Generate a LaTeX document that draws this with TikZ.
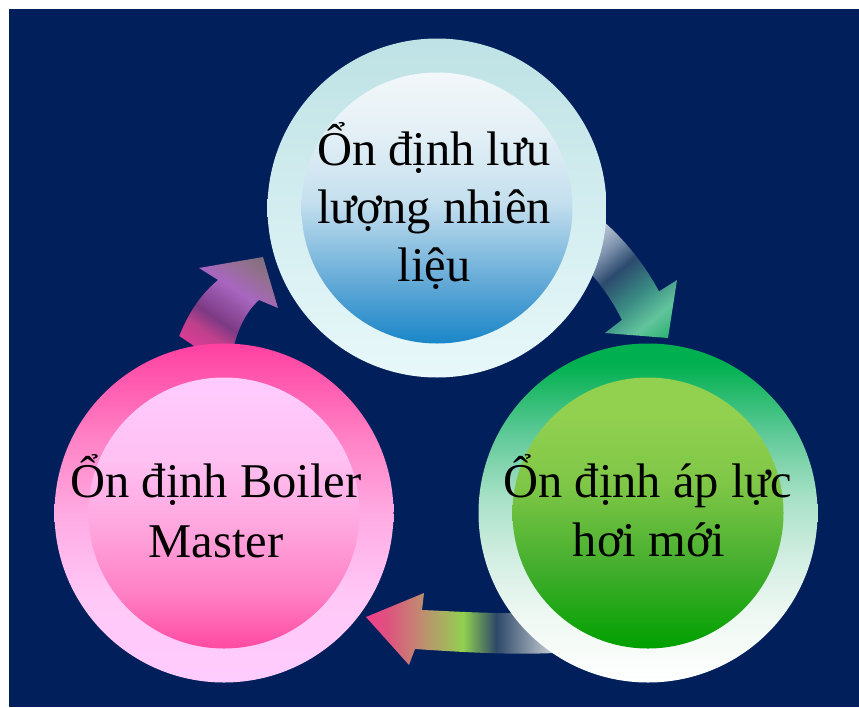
\documentclass[tikz,border=0pt]{standalone}
\usepackage{fontspec}
\setmainfont{Liberation Serif}
\definecolor{bgnavy}{HTML}{011F5B}
% top circle
\definecolor{toA}{HTML}{BEE2E5}
\definecolor{toB}{HTML}{E8F8FA}
\definecolor{tiA}{HTML}{1A86C8}
\definecolor{tiB}{HTML}{5AA5D5}
\definecolor{tiC}{HTML}{C4DFEE}
\definecolor{tiD}{HTML}{E4F0F6}
\definecolor{tiE}{HTML}{F2F7FA}
% right circle
\definecolor{ro1}{HTML}{FFFFFF}
\definecolor{ro2}{HTML}{EEF8F2}
\definecolor{ro3}{HTML}{D2EEE2}
\definecolor{ro4}{HTML}{A6E0C6}
\definecolor{ro5}{HTML}{60CA98}
\definecolor{ro6}{HTML}{00B050}
\definecolor{ri1}{HTML}{00A000}
\definecolor{ri2}{HTML}{44AE2E}
\definecolor{ri3}{HTML}{7EC646}
\definecolor{ri4}{HTML}{92D050}
% left circle
\definecolor{lo1}{HTML}{FFCCFF}
\definecolor{lo2}{HTML}{FFC8F6}
\definecolor{lo3}{HTML}{FFAAE2}
\definecolor{lo4}{HTML}{FF86C8}
\definecolor{lo5}{HTML}{FF40A0}
\definecolor{li1}{HTML}{FF4AA2}
\definecolor{li2}{HTML}{FF80C4}
\definecolor{li3}{HTML}{FFA6DE}
\definecolor{li4}{HTML}{FFC0F2}
\definecolor{li5}{HTML}{FFCCFF}
% arrow colours
\definecolor{aa1}{HTML}{DCE4EC}
\definecolor{aa2}{HTML}{C4CEDA}
\definecolor{aa3}{HTML}{7F93AE}
\definecolor{aa4}{HTML}{2C4A6E}
\definecolor{aa5}{HTML}{3A8C84}
\definecolor{aa6}{HTML}{62C49C}
\definecolor{aa7}{HTML}{46BA86}
\definecolor{aa8}{HTML}{20B070}
\definecolor{bb1}{HTML}{D83C94}
\definecolor{bb2}{HTML}{C0408C}
\definecolor{bb3}{HTML}{7C3A84}
\definecolor{bb4}{HTML}{A866C0}
\definecolor{bb5}{HTML}{947090}
\definecolor{bb6}{HTML}{7A6E78}
\definecolor{cc1}{HTML}{F0408C}
\definecolor{cc2}{HTML}{E0507F}
\definecolor{cc3}{HTML}{C08C70}
\definecolor{cc4}{HTML}{92D050}
\definecolor{cc5}{HTML}{2E4868}
\definecolor{cc6}{HTML}{B4BEC8}
\definecolor{cc7}{HTML}{CCD4DC}
\pgfdeclareverticalshading{topinner}{100bp}{color(0bp)=(tiA); color(25bp)=(tiA); color(35bp)=(tiB); color(51bp)=(tiC); color(64bp)=(tiD); color(75bp)=(tiE); color(100bp)=(tiE)}
\pgfdeclareverticalshading{rightouter}{100bp}{color(0bp)=(ro1); color(25bp)=(ro1); color(35bp)=(ro2); color(43.5bp)=(ro3); color(52.5bp)=(ro4); color(61.5bp)=(ro5); color(72bp)=(ro6); color(100bp)=(ro6)}
\pgfdeclareverticalshading{rightinner}{100bp}{color(0bp)=(ri1); color(25bp)=(ri1); color(40bp)=(ri2); color(55bp)=(ri3); color(68bp)=(ri4); color(100bp)=(ri4)}
\pgfdeclareverticalshading{leftouter}{100bp}{color(0bp)=(lo1); color(25bp)=(lo1); color(37.5bp)=(lo2); color(50bp)=(lo3); color(60bp)=(lo4); color(75bp)=(lo5); color(100bp)=(lo5)}
\pgfdeclareverticalshading{leftinner}{100bp}{color(0bp)=(li1); color(25bp)=(li1); color(35bp)=(li2); color(47.5bp)=(li3); color(60bp)=(li4); color(75bp)=(li5); color(100bp)=(li5)}
\pgfdeclarehorizontalshading{arrowTR}{100bp}{color(0bp)=(aa1); color(25bp)=(aa1); color(30bp)=(aa2); color(38.3bp)=(aa3); color(46bp)=(aa4); color(56.7bp)=(aa5); color(65.7bp)=(aa6); color(70bp)=(aa7); color(75bp)=(aa8); color(100bp)=(aa8)}
\pgfdeclarehorizontalshading{arrowL}{100bp}{color(0bp)=(bb1); color(25bp)=(bb1); color(32.8bp)=(bb2); color(40.2bp)=(bb3); color(55.4bp)=(bb4); color(66.3bp)=(bb5); color(75bp)=(bb6); color(100bp)=(bb6)}
\pgfdeclarehorizontalshading{arrowB}{100bp}{color(0bp)=(cc1); color(25bp)=(cc1); color(29.9bp)=(cc2); color(38.5bp)=(cc3); color(48.8bp)=(cc4); color(56.9bp)=(cc5); color(69.1bp)=(cc6); color(75bp)=(cc7); color(100bp)=(cc7)}
\tikzset{
  ring/.style={circle, inner sep=0pt, minimum size=339pt, shade},
  disc/.style={circle, inner sep=0pt, minimum size=271pt, shade},
  label/.style={anchor=base, inner sep=0pt, font=\fontsize{48.5pt}{58pt}\selectfont, text=black}
}
\begin{document}
\begin{tikzpicture}[x=1pt,y=-1pt]
\useasboundingbox (0,0) rectangle (859,707);
\fill[bgnavy] (9,9) rectangle (859,707);

% arrow top circle -> right circle
\begin{scope}
\clip (591.8,211.6) .. controls (619.5,233.3) and (642.4,260.4) .. (659,291.4)
  -- (677,280) -- (668,338) -- (605,333) -- (621.9,319.9)
  .. controls (611.9,299.4) and (598.5,280.7) .. (582.4,264.6) -- cycle;
\begin{scope}[transform canvas={rotate around={-50.8:(575,225)}}]
\shade[shading=arrowTR] (575,75) rectangle (725,375);
\end{scope}
\end{scope}

% arrow left circle -> top circle
\begin{scope}
\clip (170,365) .. controls (180,325) and (197,297) .. (218,280)
  -- (199,268) -- (263,257) -- (278,308) -- (259,300)
  .. controls (246,312) and (236,330) .. (231,360) -- cycle;
\begin{scope}[transform canvas={rotate around={55.9:(200,350)}}]
\shade[shading=arrowL] (200,230) rectangle (315,470);
\end{scope}
\end{scope}

% arrow right circle -> left circle
\shade[shading=arrowB] (560,612) .. controls (500,615) and (450,611) .. (422,610)
  -- (424,593) -- (366,617) -- (409,665) -- (415,649)
  .. controls (460,652) and (520,656) .. (570,652) -- cycle;

% circles
\node[ring, top color=toA, bottom color=toB] (topring) at (437,208) {};
\node[disc, shading=topinner] (topdisc) at (437,208) {};
\node[ring, shading=rightouter] (rightring) at (648,513) {};
\node[disc, shading=rightinner] (rightdisc) at (648,513) {};
\node[ring, shading=leftouter] (leftring) at (224,513) {};
\node[disc, shading=leftinner] (leftdisc) at (224,513) {};

% texts
\node[label] (t1) at (434,165) {Ổn định lưu};
\node[label] (t2) at (434,223) {lượng nhiên};
\node[label] (t3) at (434,281) {liệu};
\node[label] (l1) at (216,497) {Ổn định Boiler};
\node[label] (l2) at (216,557) {Master};
\node[label] (r1) at (648,497) {Ổn định áp lực};
\node[label] (r2) at (649,556) {hơi mới};
\end{tikzpicture}
\end{document}
